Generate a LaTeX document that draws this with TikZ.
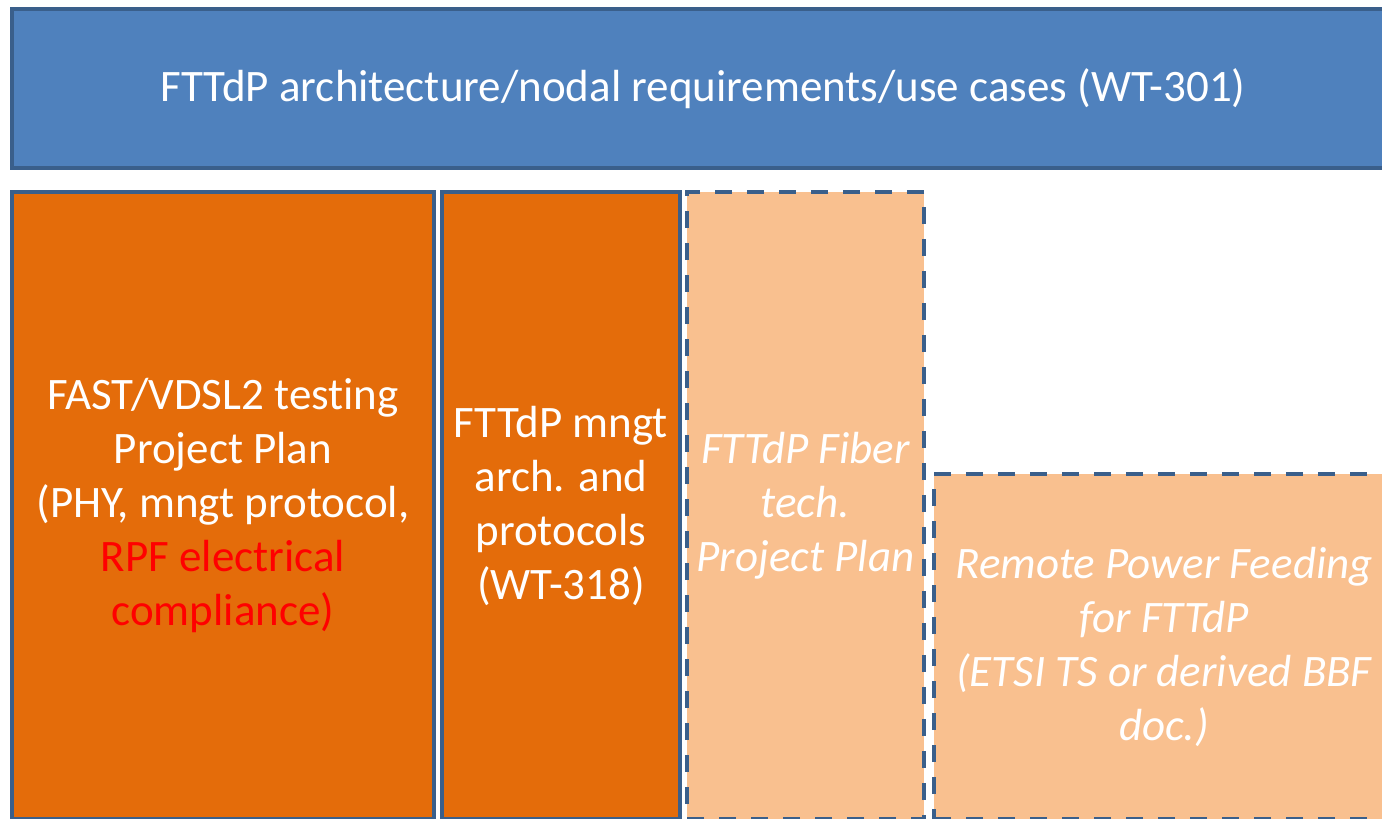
\documentclass[tikz,border=0pt]{standalone}
\usepackage{fontspec}
\setmainfont[Ligatures=NoCommon]{Carlito}
\usepackage{tikz}
\definecolor{wtblue}{HTML}{4F81BD}
\definecolor{wtedge}{HTML}{3A5F8B}
\definecolor{wtorange}{HTML}{E46C0A}
\definecolor{wtpeach}{HTML}{F9C08F}
\definecolor{wtred}{HTML}{FF0000}

\begin{document}
\begin{tikzpicture}[x=0.5pt,y=-0.5pt,
    wtbox/.style={draw=wtedge,line width=2pt,anchor=north west,inner sep=0pt,
      align=center,text=white,font=\fontsize{22.5}{27}\selectfont},
    solidbox/.style={wtbox,fill=wtorange},
    plannedbox/.style={wtbox,fill=wtpeach,dash pattern=on 8.5pt off 7.5pt,
      font=\fontsize{22.5}{27}\selectfont\itshape}]
                              % Frame
                              \useasboundingbox (0,0) rectangle (1382,819);
                              \clip (0,0) rectangle (1382,819);

                              % Architecture bar
                              \node[wtbox,fill=wtblue,minimum width=691pt,minimum height=79.5pt]
                              (arch) at (10,7) {FTTdP architecture/nodal requirements/use cases (WT-301)};

                              % Work items
                              \node[solidbox,minimum width=211pt,minimum height=313.5pt]
                              (fast) at (10,190) {FAST/VDSL2 testing\\Project Plan\\(PHY, mngt protocol,\\
                              \textcolor{wtred}{RPF electrical}\\\textcolor{wtred}{compliance)}};
                              \node[solidbox,minimum width=119pt,minimum height=313.5pt]
                              (mngt) at (440,190) {FTTdP mngt\\arch. and\\protocols\\(WT-318)};
                              \node[plannedbox,minimum width=118.5pt,minimum height=313.5pt]
                              (fiber) at (685,190) {FTTdP Fiber\\tech.\\Project Plan};
                              \node[plannedbox,minimum width=230pt,minimum height=172.5pt]
                              (rpf) at (932,472) {Remote Power Feeding\\for FTTdP\\(ETSI TS or derived BBF\\doc.)};
                        \end{tikzpicture}
\end{document}
